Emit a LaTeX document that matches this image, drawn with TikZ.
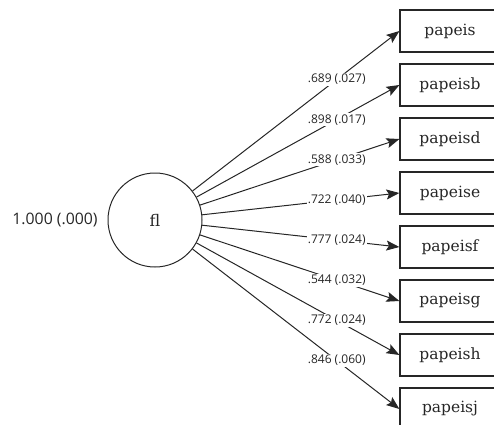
\documentclass[tikz,border=0pt]{standalone}
\usepackage{fontspec}
\setmainfont{DejaVu Serif}
\newfontfamily\labfont{Open Sans}
\usetikzlibrary{arrows.meta}
\definecolor{ink}{HTML}{262626}
\tikzset{
  obsbox/.style={draw=ink, line width=1.2pt, minimum width=100pt, minimum height=42pt, inner sep=0pt, text=ink, font=\fontsize{15.5}{17}\selectfont},
  latentc/.style={draw=ink, line width=1pt, circle, minimum size=94pt, inner sep=0pt, text=ink, font=\fontsize{16}{18}\selectfont},
  conn/.style={draw=ink, line width=1pt, -{Stealth[length=13pt,width=10pt,inset=2.5pt]}},
  lab/.style={fill=white, inner sep=1pt, text=ink, font=\labfont\fontsize{12}{14}\selectfont},
}
\begin{document}
\begin{tikzpicture}[x=1pt,y=-1pt]
\useasboundingbox (0,0) rectangle (494,424);
\node[latentc] (fl) at (155,220) {fl};
\node[text=ink, font=\labfont\fontsize{15.8}{18}\selectfont] (var) at (55,220) {1.000 (.000)};
\node[obsbox] (b1) at (450,31) {papeis};
\node[obsbox] (b2) at (450,85) {papeisb};
\node[obsbox] (b3) at (450,139) {papeisd};
\node[obsbox] (b4) at (450,193) {papeise};
\node[obsbox] (b5) at (450,247) {papeisf};
\node[obsbox] (b6) at (450,301) {papeisg};
\node[obsbox] (b7) at (450,355) {papeish};
\node[obsbox] (b8) at (450,409) {papeisj};
\draw[conn] (fl) -- node[lab, pos=0.697] (l1) {.689 (.027)} (b1.west);
\draw[conn] (fl) -- node[lab, pos=0.691] (l2) {.898 (.017)} (b2.west);
\draw[conn] (fl) -- node[lab, pos=0.686] (l3) {.588 (.033)} (b3.west);
\draw[conn] (fl) -- node[lab, pos=0.682] (l4) {.722 (.040)} (b4.west);
\draw[conn] (fl) -- node[lab, pos=0.682] (l5) {.777 (.024)} (b5.west);
\draw[conn] (fl) -- node[lab, pos=0.686] (l6) {.544 (.032)} (b6.west);
\draw[conn] (fl) -- node[lab, pos=0.691] (l7) {.772 (.024)} (b7.west);
\draw[conn] (fl) -- node[lab, pos=0.697] (l8) {.846 (.060)} (b8.west);
\end{tikzpicture}
\end{document}
